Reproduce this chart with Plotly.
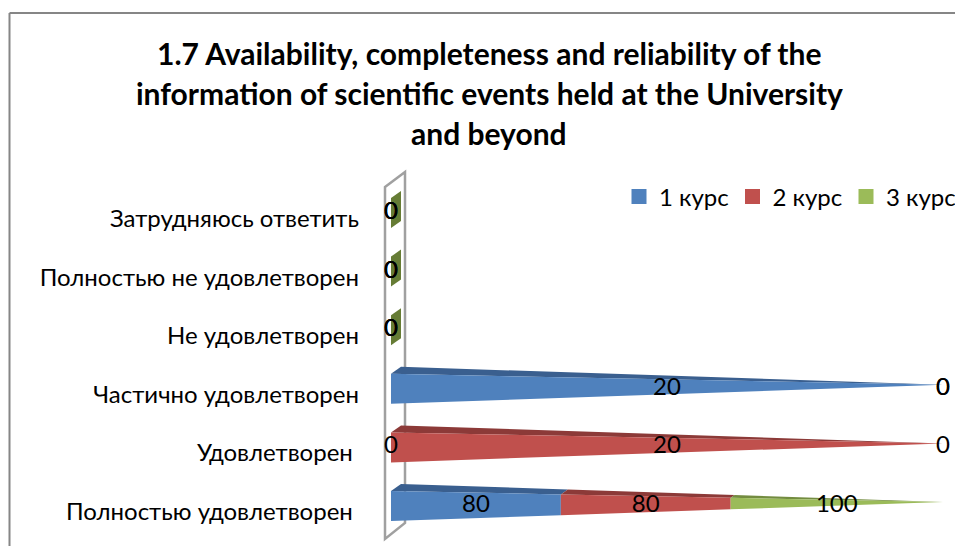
import plotly.graph_objects as go

# ---- data ----
categories = ["Полностью удовлетворен\u00a0", "Удовлетворен\u00a0", "Частично удовлетворен",
              "Не удовлетворен", "Полностью не удовлетворен", "Затрудняюсь ответить"]
course1 = [80, 0, 20, 0, 0, 0]
course2 = [80, 20, 0, 0, 0, 0]
course3 = [100, 0, 0, 0, 0, 0]
series_names = ["1 курс", "2 курс", "3 курс"]
title_lines = ["1.7 Availability, completeness and reliability of the",
               "information of scientific events held at the University",
               "and beyond"]

# ---- style ----
FRONT = ["#4f81bd", "#c0504d", "#9bbb59"]
TOPF = ["#3a5f8f", "#8c3a38", "#738c40"]
SLIVER = "#667c35"
FONT = "Lato, 'Noto Sans', sans-serif"
W, H = 955, 546
X0, PX_PER_PCT = 391, 5.52
Y0, PX_PER_ROW = 506, 58.6
DOM_L = 380
HALF = 15 / PX_PER_ROW      # half height of cone base, in rows
RISE = 4 / PX_PER_ROW       # centre line rises toward the tip
DX = 10 / PX_PER_PCT        # depth offset of top facet
DY = 7 / PX_PER_ROW


def front_y(i, x, sign):
    return i + RISE * x / 100 + sign * HALF * (1 - x / 100)


def top_pt(i, x):
    k = 1 - x / 100
    return x + DX * k, front_y(i, x, 1) + DY * k


fig = go.Figure()
all_series = [course1, course2, course3]
rows = range(len(categories))
totals = [sum(s[i] for s in all_series) for i in rows]

for k, (name, vals) in enumerate(zip(series_names, all_series)):
    # legend entry
    fig.add_trace(go.Scatter(x=[None], y=[None], mode="markers", name=name,
                             marker=dict(symbol="square", size=15, color=FRONT[k], line=dict(width=0))))
    for i in rows:
        if totals[i] == 0:
            continue
        start = sum(all_series[j][i] for j in range(k)) / totals[i] * 100
        end = start + vals[i] / totals[i] * 100
        if vals[i] == 0:
            continue
        a, b = top_pt(i, start), top_pt(i, end)
        fig.add_trace(go.Scatter(
            x=[start, a[0], b[0], end, start],
            y=[front_y(i, start, 1), a[1], b[1], front_y(i, end, 1), front_y(i, start, 1)],
            mode="lines", fill="toself", fillcolor=TOPF[k], line=dict(width=0),
            showlegend=False, hoverinfo="skip"))
        fig.add_trace(go.Scatter(
            x=[start, end, end, start, start],
            y=[front_y(i, start, 1), front_y(i, end, 1), front_y(i, end, -1), front_y(i, start, -1), front_y(i, start, 1)],
            mode="lines", fill="toself", fillcolor=FRONT[k], line=dict(width=0),
            showlegend=False, hoverinfo="skip"))

# zero-total rows: the flat base disc of the third series
for i in rows:
    if totals[i] == 0:
        fig.add_trace(go.Scatter(
            x=[0, DX, DX, 0, 0],
            y=[front_y(i, 0, 1), front_y(i, 0, 1) + DY, front_y(i, 0, -1) + DY, front_y(i, 0, -1), front_y(i, 0, 1)],
            mode="lines", fill="toself", fillcolor=SLIVER, line=dict(width=0),
            showlegend=False, hoverinfo="skip"))

# data labels
for k, vals in enumerate(all_series):
    xs, ys, txt = [], [], []
    for i in rows:
        if totals[i] == 0:
            mid = 0
        else:
            start = sum(all_series[j][i] for j in range(k)) / totals[i] * 100
            mid = start + vals[i] / totals[i] * 50
        xs.append(mid)
        ys.append(i)
        txt.append(str(vals[i]))
    fig.add_trace(go.Scatter(x=xs, y=ys, text=txt, mode="text", textposition="middle center",
                             textfont=dict(family=FONT, size=24, color="#000000"),
                             cliponaxis=False, showlegend=False, hoverinfo="skip"))

# title, one annotation per line to keep the wide line spacing
annotations = [dict(text=t, xref="paper", yref="paper", x=489 / W, y=1 - py / H, xanchor="center",
                    yanchor="middle", showarrow=False,
                    font=dict(family=FONT, size=30, color="#000000", weight="bold"))
               for t, py in zip(title_lines, [53, 93, 133])]


def px(x_px):
    return (x_px - X0) / PX_PER_PCT


def py(y_px):
    return (Y0 - y_px) / PX_PER_ROW


wall = "M {} {} L {} {} L {} {} L {} {} Z".format(px(385), py(187), px(405), py(172), px(405), py(523), px(385), py(539))
shapes = [
    dict(type="path", path=wall, xref="x", yref="y", line=dict(color="#a0a0a0", width=2.5), layer="below"),
    dict(type="line", xref="paper", yref="paper", x0=9.5 / W, x1=1, y0=1 - 13 / H, y1=1 - 13 / H,
         line=dict(color="#868686", width=2)),
    dict(type="line", xref="paper", yref="paper", x0=9.5 / W, x1=9.5 / W, y0=0, y1=1 - 13 / H,
         line=dict(color="#868686", width=2)),
]

fig.update_layout(
    width=W, height=H, margin=dict(l=0, r=0, t=0, b=0, autoexpand=False),
    paper_bgcolor="#ffffff", plot_bgcolor="#ffffff",
    annotations=annotations, shapes=shapes, showlegend=True,
    legend=dict(orientation="h", x=619 / W, xanchor="left", y=1 - 197 / H, yanchor="middle",
                entrywidth=68.5, entrywidthmode="pixels", bgcolor="rgba(0,0,0,0)",
                font=dict(family=FONT, size=24, color="#000000"), itemclick=False),
    xaxis=dict(domain=[DOM_L / W, 1], range=[px(DOM_L), px(W)], visible=False, fixedrange=True),
    yaxis=dict(domain=[0, 1], range=[py(H), py(0)], tickmode="array",
               tickvals=[i - 5.5 / PX_PER_ROW for i in rows], ticktext=categories,
               showgrid=False, zeroline=False, showline=False, ticks="", ticklabelstandoff=20,
               tickfont=dict(family=FONT, size=24, color="#000000"), fixedrange=True),
)
fig.write_html("out.html", config={"displayModeBar": False},
               post_script="document.body.style.margin='0';document.documentElement.style.overflow='hidden';")
